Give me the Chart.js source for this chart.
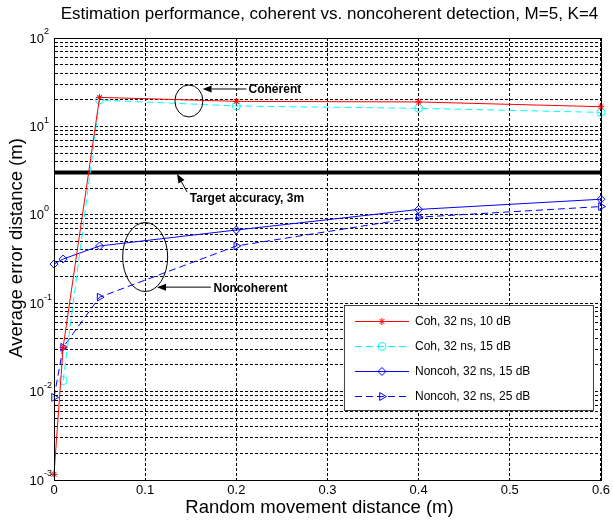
<!DOCTYPE html>
<html><head><meta charset="utf-8">
<script src="https://cdn.jsdelivr.net/npm/chart.js@4/dist/chart.umd.min.js"></script>
<style>html,body{margin:0;padding:0;background:#fff;}#wrap{width:613px;height:522px;}</style>
</head><body><div id="wrap"><canvas id="c" width="613" height="522"></canvas></div>
<script>
// ---- data ----
const xValues = [0, 0.01, 0.05, 0.2, 0.4, 0.6];
const coh10dB = [0.00116, 0.0317, 21.3, 19.2, 18.9, 16.7];
const coh15dB = [null, 0.0133, 19.9, 17.0, 16.0, 14.4];
const noncoh15dB = [0.277, 0.316, 0.444, 0.673, 1.15, 1.50];
const noncoh25dB = [0.0086, 0.0317, 0.117, 0.444, 0.94, 1.24];
const targetX = [0, 0.6];
const targetAccuracy = [3, 3];
const seriesLabels = ['Coh, 32 ns, 10 dB', 'Coh, 32 ns, 15 dB', 'Noncoh, 32 ns, 15 dB', 'Noncoh, 32 ns, 25 dB'];
const xTicks = [0, 0.1, 0.2, 0.3, 0.4, 0.5, 0.6];
const yDecades = [-3, -2, -1, 0, 1, 2];
const titleText = 'Estimation performance, coherent vs. noncoherent detection, M=5, K=4';
const xTitle = 'Random movement distance (m)';
const yTitle = 'Average error distance (m)';

// annotation anchors in data coordinates
const notes = {
  ellipses: [{x: 0.148, y: 19.4, rx: 14, ry: 16}, {x: 0.1, y: 0.333, rx: 22.5, ry: 34.5}],
  arrows: [{from: [0.211, 26.5], to: [0.163, 26.5]}, {from: [0.146, 1.81], to: [0.135, 2.9]}, {from: [0.172, 0.152], to: [0.113, 0.152]}],
  texts: [{text: 'Coherent', x: 0.2134, y: 25.8}, {text: 'Target accuracy, 3m', x: 0.149, y: 1.51}, {text: 'Noncoherent', x: 0.175, y: 0.145}]
};

const toPts = (ys, xs) => (xs || xValues).map((x, i) => ({x: x, y: ys[i]}));

const yGridValues = [];
yDecades.slice(0, -1).forEach(d => { for (let m = 1; m <= 9; m++) yGridValues.push(m * Math.pow(10, d)); });
yGridValues.push(Math.pow(10, yDecades[yDecades.length - 1]));

const FONT = '"Liberation Sans", Arial, Helvetica, sans-serif';

const datasets = [
  {label: seriesLabels[0], data: toPts(coh10dB), borderColor: '#ff0000', backgroundColor: 'rgba(0,0,0,0)', borderWidth: 1, clip: false,
   pointStyle: 'star', pointRadius: 3.5, pointBorderColor: '#ff0000', pointBorderWidth: 1},
  {label: seriesLabels[1], data: toPts(coh15dB), borderColor: '#00ffff', backgroundColor: 'rgba(0,0,0,0)', borderWidth: 1, borderDash: [7, 4], clip: false,
   pointStyle: 'circle', pointRadius: 4, pointBorderColor: '#00ffff', pointBorderWidth: 1},
  {label: seriesLabels[2], data: toPts(noncoh15dB), borderColor: '#0000ff', backgroundColor: 'rgba(0,0,0,0)', borderWidth: 1, clip: false,
   pointStyle: 'rectRot', pointRadius: 4, pointBorderColor: '#0000ff', pointBorderWidth: 1},
  {label: seriesLabels[3], data: toPts(noncoh25dB), borderColor: '#0000ff', backgroundColor: 'rgba(0,0,0,0)', borderWidth: 1, borderDash: [7, 4], clip: false,
   pointStyle: 'triangle', pointRotation: 90, pointRadius: 4.5, pointBorderColor: '#0000ff', pointBorderWidth: 1},
  {label: 'Target accuracy', data: toPts(targetAccuracy, targetX), borderColor: '#000000', borderWidth: 4, pointRadius: 0, backgroundColor: 'rgba(0,0,0,0)'}
];

function drawMarker(ctx, ds, x, y) {
  ctx.save();
  ctx.strokeStyle = ds.pointBorderColor; ctx.fillStyle = 'rgba(0,0,0,0)'; ctx.lineWidth = 1;
  ctx.setLineDash([]);
  Chart.helpers.drawPoint(ctx, {pointStyle: ds.pointStyle, radius: ds.pointRadius, rotation: ds.pointRotation || 0, borderWidth: 1}, x, y);
  ctx.restore();
}

const overlay = {
  id: 'overlay',
  afterDatasetsDraw(chart) {
    const ctx = chart.ctx, xs = chart.scales.x, ys = chart.scales.y, a = chart.chartArea;
    // annotations
    ctx.save();
    ctx.strokeStyle = '#000'; ctx.fillStyle = '#000'; ctx.lineWidth = 1; ctx.setLineDash([]);
    notes.ellipses.forEach(e => {
      ctx.beginPath();
      ctx.ellipse(xs.getPixelForValue(e.x), ys.getPixelForValue(e.y), e.rx, e.ry, 0, 0, Math.PI * 2);
      ctx.stroke();
    });
    notes.arrows.forEach(ar => {
      const x1 = xs.getPixelForValue(ar.from[0]), y1 = ys.getPixelForValue(ar.from[1]);
      const x2 = xs.getPixelForValue(ar.to[0]), y2 = ys.getPixelForValue(ar.to[1]);
      const ang = Math.atan2(y2 - y1, x2 - x1), L = 9, W = 3.5;
      ctx.beginPath(); ctx.moveTo(x1, y1); ctx.lineTo(x2 - L * Math.cos(ang), y2 - L * Math.sin(ang)); ctx.stroke();
      ctx.beginPath();
      ctx.moveTo(x2, y2);
      ctx.lineTo(x2 - L * Math.cos(ang) + W * Math.sin(ang), y2 - L * Math.sin(ang) - W * Math.cos(ang));
      ctx.lineTo(x2 - L * Math.cos(ang) - W * Math.sin(ang), y2 - L * Math.sin(ang) + W * Math.cos(ang));
      ctx.closePath(); ctx.fill();
    });
    ctx.font = 'bold 12px ' + FONT; ctx.textAlign = 'left'; ctx.textBaseline = 'middle';
    notes.texts.forEach(t => ctx.fillText(t.text, xs.getPixelForValue(t.x), ys.getPixelForValue(t.y)));
    ctx.restore();

    // legend
    const lx = a.right - 257, ly = a.bottom - 175, lw = 249, lh = 105;
    ctx.save();
    ctx.fillStyle = '#fff'; ctx.fillRect(lx, ly, lw, lh);
    ctx.strokeStyle = '#404040'; ctx.lineWidth = 1; ctx.strokeRect(lx + 0.5, ly + 0.5, lw, lh);
    ctx.font = '12px ' + FONT; ctx.textBaseline = 'middle'; ctx.textAlign = 'left';
    for (let i = 0; i < 4; i++) {
      const ds = chart.data.datasets[i];
      const cy = ly + 16 + i * 25;
      ctx.save();
      ctx.strokeStyle = ds.borderColor; ctx.lineWidth = 1; ctx.setLineDash(ds.borderDash || []);
      ctx.beginPath(); ctx.moveTo(lx + 11, cy + 0.5); ctx.lineTo(lx + 65, cy + 0.5); ctx.stroke();
      ctx.restore();
      drawMarker(ctx, ds, lx + 38, cy + 0.5);
      ctx.fillStyle = '#000';
      ctx.fillText(ds.label, lx + 71, cy + 1);
    }
    ctx.restore();
  },
  afterDraw(chart) {
    const ctx = chart.ctx, a = chart.chartArea, ys = chart.scales.y;
    ctx.save();
    // frame
    ctx.strokeStyle = '#000'; ctx.lineWidth = 1; ctx.setLineDash([]);
    ctx.strokeRect(Math.round(a.left) + 0.5, Math.round(a.top) + 0.5, Math.round(a.right - a.left), Math.round(a.bottom - a.top));
    // y tick labels 10^n
    ctx.fillStyle = '#000'; ctx.textBaseline = 'middle';
    yDecades.forEach(d => {
      const py = ys.getPixelForValue(Math.pow(10, d));
      ctx.font = '13px ' + FONT; ctx.textAlign = 'right';
      ctx.fillText('10', a.left - 10, py + 1);
      ctx.font = '9px ' + FONT; ctx.textAlign = 'left';
      ctx.fillText(String(d), a.left - 10, py - 6);
    });
    // titles
    ctx.textAlign = 'center';
    ctx.font = '17px ' + FONT;
    ctx.fillText(titleText, (a.left + a.right) / 2 + 2, 14);
    ctx.font = '18.5px ' + FONT;
    ctx.fillText(xTitle, (a.left + a.right) / 2 - 8, 508);
    ctx.save();
    ctx.translate(17, 248); ctx.rotate(-Math.PI / 2);
    ctx.fillText(yTitle, 0, 0);
    ctx.restore();
    ctx.restore();
  }
};

new Chart(document.getElementById('c'), {
  type: 'scatter',
  data: {datasets: datasets},
  options: {
    responsive: false, animation: false, devicePixelRatio: 1,
    showLine: true,
    layout: {padding: {top: 38, right: 8, left: 0, bottom: 0}},
    plugins: {legend: {display: false}, title: {display: false}, tooltip: {enabled: false}},
    scales: {
      x: {
        type: 'linear', min: 0, max: 0.6,
        afterBuildTicks: s => { s.ticks = xTicks.map(v => ({value: v})); },
        afterFit: s => { s.height = 42; },
        ticks: {autoSkip: false, maxRotation: 0, color: '#000', font: {size: 13, family: FONT}, padding: 3,
                callback: v => String(v)},
        grid: {color: '#000', lineWidth: 1, drawTicks: false},
        border: {display: true, color: '#000', dash: [3, 2]}
      },
      y: {
        type: 'logarithmic', min: 0.001, max: 100,
        afterBuildTicks: s => { s.ticks = yGridValues.map(v => ({value: v})); },
        afterFit: s => { s.width = 54; },
        ticks: {autoSkip: false, callback: () => ''},
        grid: {color: '#000', lineWidth: 1, drawTicks: false},
        border: {display: true, color: '#000', dash: [3, 2]}
      }
    }
  },
  plugins: [overlay]
});
</script>
</body></html>
